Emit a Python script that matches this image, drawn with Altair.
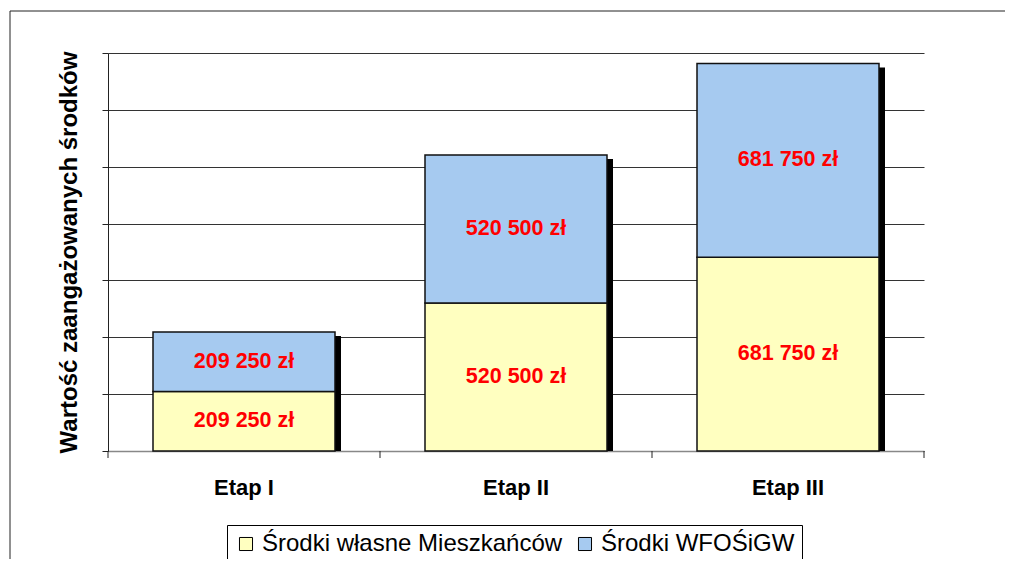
import altair as alt
import pandas as pd

etapy = ["Etap I", "Etap II", "Etap III"]
serie = ["Środki własne Mieszkańców", "Środki WFOŚiGW"]
srodki_wlasne = [209250, 520500, 681750]
srodki_wfos = [209250, 520500, 681750]
kolory = ["#FFFFC0", "#A6CAF0"]
y_ticks = [0, 200000, 400000, 600000, 800000, 1000000, 1200000, 1400000]
y_title = "Wartość zaangażowanych środków"


def fmt(v):
    return f"{v:,}".replace(",", " ") + " zł"


rows = []
for i, e in enumerate(etapy):
    start = 0
    for j, (s, vals) in enumerate(zip(serie, [srodki_wlasne, srodki_wfos])):
        v = vals[i]
        rows.append(dict(etap=e, seria=s, kolejnosc=j, start=start, end=start + v,
                         mid=start + v / 2, label=fmt(v)))
        start += v
df = pd.DataFrame(rows)
tot = pd.DataFrame({"etap": etapy,
                    "total": [a + b for a, b in zip(srodki_wlasne, srodki_wfos)]})
one = pd.DataFrame({"a": [0]})

FONT = "Liberation Sans"
W, H = 816, 398
BAR = 182
PAD_R = 85

x_scale = alt.Scale(domain=etapy, paddingInner=0, paddingOuter=0)
x_axis = alt.Axis(title=None, labelFont=FONT, labelFontSize=22, labelFontWeight="bold",
                  labelColor="black", ticks=False, labelPadding=26,
                  domainColor="#888888", domainWidth=1.5, labelAngle=0)
y_scale = alt.Scale(domain=[0, 1400000], nice=False)
y_axis = alt.Axis(title=y_title, values=y_ticks, labels=False, tickSize=6,
                  tickColor="#222222", domainColor="#222222", grid=True,
                  gridColor="#333333", gridWidth=1, titleFont=FONT, titleFontSize=24,
                  titleFontWeight="bold", titleColor="black", titlePadding=20)

X = alt.X("etap:N", scale=x_scale, axis=x_axis, sort=etapy)

frame_top = alt.Chart(one).mark_rule(color="#222222", strokeWidth=1).encode(
    x=alt.value(-98), x2=alt.value(W + PAD_R - 4), y=alt.value(-42))
frame_left = alt.Chart(one).mark_rule(color="#222222", strokeWidth=1).encode(
    x=alt.value(-98), y=alt.value(-42), y2=alt.value(H + 108))

shadow = alt.Chart(tot).mark_bar(color="black", size=BAR, xOffset=6, yOffset=4).encode(
    x=X,
    y=alt.Y("total:Q", scale=y_scale, axis=y_axis, stack=None),
)

bars = alt.Chart(df).mark_bar(size=BAR, stroke="#111111", strokeWidth=1.5).encode(
    x=X,
    y=alt.Y("start:Q", scale=y_scale, axis=y_axis),
    y2="end:Q",
    color=alt.Color("seria:N", scale=alt.Scale(domain=serie, range=kolory),
                    legend=alt.Legend(title=None, orient="none", legendX=119, legendY=472,
                                      direction="horizontal", symbolType="square",
                                      symbolSize=170, symbolStrokeColor="black",
                                      symbolStrokeWidth=1, labelFont=FONT,
                                      labelFontSize=24, labelColor="black",
                                      labelLimit=500, strokeColor="black",
                                      padding=7, columnPadding=10, symbolOpacity=1,
                                      fillColor="white")),
    order="kolejnosc:Q",
)

texts = alt.Chart(df).mark_text(font=FONT, fontSize=21.5, fontWeight="bold",
                                color="#FF0000").encode(
    x=X,
    y=alt.Y("mid:Q", scale=y_scale, axis=y_axis),
    text="label:N",
)

ticks = alt.Chart(tot).mark_rule(color="#222222").encode(
    x=alt.X("etap:N", scale=x_scale, axis=x_axis, sort=etapy, bandPosition=0),
    y=alt.value(H), y2=alt.value(H + 7))
tick_end = alt.Chart(one).mark_rule(color="#222222").encode(
    x=alt.value(W), y=alt.value(H), y2=alt.value(H + 7))

chart = alt.layer(frame_top, frame_left, shadow, bars, texts, ticks, tick_end).properties(
    width=W, height=H,
    autosize=alt.AutoSizeParams(type="none"),
    padding={"left": 100, "top": 45, "right": PAD_R, "bottom": 108},
    background="white",
).configure_view(stroke=None)

chart.save("out.html", embed_options={"renderer": "svg", "actions": False})
